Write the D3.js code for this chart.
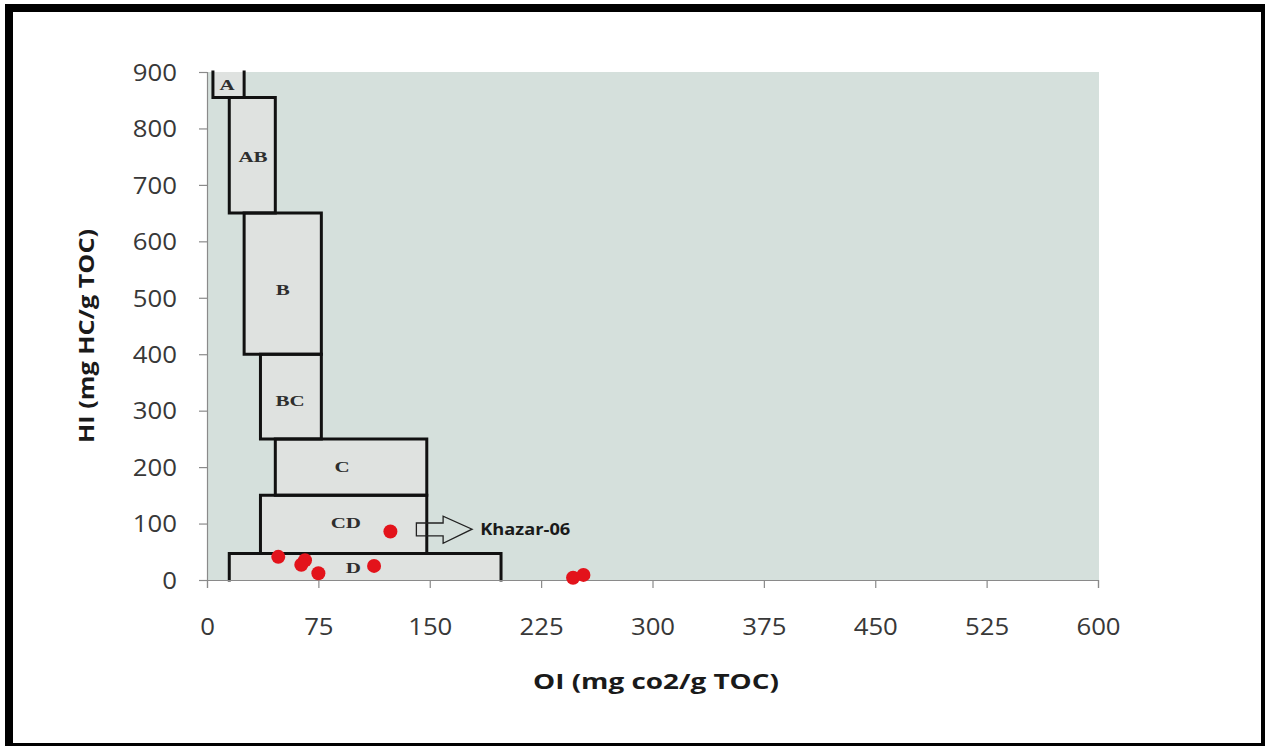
<!DOCTYPE html>
<html>
<head>
<meta charset="utf-8">
<script src="https://cdn.jsdelivr.net/npm/d3@7"></script>
<style>
  html, body { margin: 0; padding: 0; background: #ffffff; }
  svg { display: block; }
</style>
</head>
<body>
<svg id="chart" width="1265" height="746"></svg>
<script>
// ---- Data ----
const xTicks = [0, 75, 150, 225, 300, 375, 450, 525, 600];
const yTicks = [0, 100, 200, 300, 400, 500, 600, 700, 800, 900];

// Kerogen facies zones (OI range x HI range)
const zoneNames = ["A", "AB", "B", "BC", "C", "CD", "D"];
const zoneOIMin = [4, 15, 25, 36, 46, 36, 15];
const zoneOIMax = [25, 46, 77, 77, 148, 148, 198];
const zoneHIMin = [855, 650, 400, 250, 150, 47, 0];
const zoneHIMax = [900, 855, 650, 400, 250, 150, 47];
const zoneLabelOI = [13.5, 31, 51, 56, 91, 93.5, 98.5];
const zoneLabelHI = [877, 750, 514, 317, 200, 101, 21];

// Samples
const sampleOI = [48, 66, 63.5, 75, 112.5, 123.5, 246.5, 253.5];
const sampleHI = [41, 35, 27, 12, 25, 86, 4, 9];

// Annotation
const wellName = "Khazar-06";
const arrowOI = [141, 159, 178.5];   // shaft start, head start, tip
const arrowHI = [78, 101, 65, 113, 90]; // shaft low, shaft high, head low, head high, tip

const xTitle = "OI (mg co2/g TOC)";
const yTitle = "HI (mg HC/g TOC)";

// ---- Chart ----
const svg = d3.select("#chart");
const x = d3.scaleLinear().domain([0, 600]).range([207, 1098]);
const y = d3.scaleLinear().domain([0, 900]).range([580, 72]);

// widen text horizontally (the source picture is stretched)
function stretch(sel, f) {
  sel.each(function () {
    const w = this.getComputedTextLength();
    d3.select(this).attr("textLength", w * f).attr("lengthAdjust", "spacingAndGlyphs");
  });
}

// outer frame
svg.append("rect").attr("x", 9).attr("y", 8).attr("width", 1256).attr("height", 739)
  .attr("fill", "none").attr("stroke", "#000").attr("stroke-width", 8);

// plot background
svg.append("rect")
  .attr("x", x(0)).attr("y", y(900))
  .attr("width", x(600) - x(0) + 1).attr("height", y(0) - y(900))
  .attr("fill", "#d5e0dc");

// zones
const zones = zoneNames.map((n, i) => ({
  name: n, x0: zoneOIMin[i], x1: zoneOIMax[i], y0: zoneHIMin[i], y1: zoneHIMax[i],
  lx: zoneLabelOI[i], ly: zoneLabelHI[i]
}));
const zg = svg.append("g");
zg.selectAll("rect.fill").data(zones).enter().append("rect")
  .attr("x", d => x(d.x0)).attr("y", d => y(d.y1))
  .attr("width", d => x(d.x1) - x(d.x0)).attr("height", d => y(d.y0) - y(d.y1))
  .attr("fill", "#dfe2e0");
zg.selectAll("path.edge").data(zones).enter().append("path")
  .attr("d", d => {
    const X0 = x(d.x0), X1 = x(d.x1), Y0 = y(d.y0), Y1 = y(d.y1);
    const p = d3.path();
    if (d.y1 < 900) { p.moveTo(X1, Y1); p.lineTo(X0, Y1); } else { p.moveTo(X0, Y1); }
    p.lineTo(X0, Y0);
    if (d.y0 > 0) p.lineTo(X1, Y0); else p.moveTo(X1, Y0);
    p.lineTo(X1, Y1);
    return p.toString();
  })
  .attr("fill", "none").attr("stroke", "#111").attr("stroke-width", 3)
  .attr("stroke-linecap", "square");
zg.selectAll("text").data(zones).enter().append("text")
  .attr("x", d => x(d.lx)).attr("y", d => y(d.ly))
  .attr("text-anchor", "middle").attr("dominant-baseline", "central")
  .attr("font-family", "Liberation Serif, serif").attr("font-weight", "bold")
  .attr("font-size", 15).attr("fill", "#2e2e2e")
  .text(d => d.name)
  .call(stretch, 1.4);

// axes
const yAxis = svg.append("g").attr("transform", `translate(${x(0)},0)`)
  .call(d3.axisLeft(y).tickValues(yTicks).tickSize(8).tickPadding(22).tickFormat(d3.format("d")));
const xAxis = svg.append("g").attr("transform", `translate(0,${y(0)})`)
  .call(d3.axisBottom(x).tickValues(xTicks).tickSize(8).tickPadding(31).tickFormat(d3.format("d")));
[yAxis, xAxis].forEach(g => {
  g.select(".domain").attr("stroke", "#8a8a8a").attr("stroke-width", 1.2);
  g.selectAll(".tick line").attr("stroke", "#8a8a8a").attr("stroke-width", 1.2);
  g.selectAll(".tick text").attr("font-family", "Open Sans, sans-serif")
    .attr("font-size", 23).attr("fill", "#383838")
    .call(stretch, 1.12);
});
yAxis.selectAll(".tick text").attr("dy", "0.36em");

// samples
svg.append("g").selectAll("circle").data(sampleOI.map((v, i) => [v, sampleHI[i]]))
  .enter().append("circle")
  .attr("cx", d => x(d[0])).attr("cy", d => y(d[1])).attr("r", 7)
  .attr("fill", "#e3131b");

// arrow
const ax = arrowOI.map(x), ay = arrowHI.map(y);
svg.append("path")
  .attr("d", `M${ax[0]},${ay[0]} L${ax[1]},${ay[0]} L${ax[1]},${ay[2]} L${ax[2]},${ay[4]} L${ax[1]},${ay[3]} L${ax[1]},${ay[1]} L${ax[0]},${ay[1]} Z`)
  .attr("fill", "none").attr("stroke", "#222").attr("stroke-width", 1.3);
svg.append("text").attr("x", x(184)).attr("y", y(90))
  .attr("dominant-baseline", "central")
  .attr("font-family", "Open Sans, sans-serif").attr("font-weight", "bold")
  .attr("font-size", 16).attr("fill", "#1a1a1a")
  .attr("textLength", 90).attr("lengthAdjust", "spacingAndGlyphs")
  .text(wellName);

// titles
svg.append("text").attr("x", 656).attr("y", 689)
  .attr("text-anchor", "middle")
  .attr("font-family", "Open Sans, sans-serif").attr("font-weight", "bold")
  .attr("font-size", 22).attr("fill", "#1a1a1a")
  .attr("textLength", 246).attr("lengthAdjust", "spacingAndGlyphs")
  .text(xTitle);
svg.append("text").attr("transform", "translate(94,336) rotate(-90)")
  .attr("text-anchor", "middle")
  .attr("font-family", "Open Sans, sans-serif").attr("font-weight", "bold")
  .attr("font-size", 22).attr("fill", "#1a1a1a")
  .attr("textLength", 214).attr("lengthAdjust", "spacingAndGlyphs")
  .text(yTitle);
</script>
</body>
</html>
